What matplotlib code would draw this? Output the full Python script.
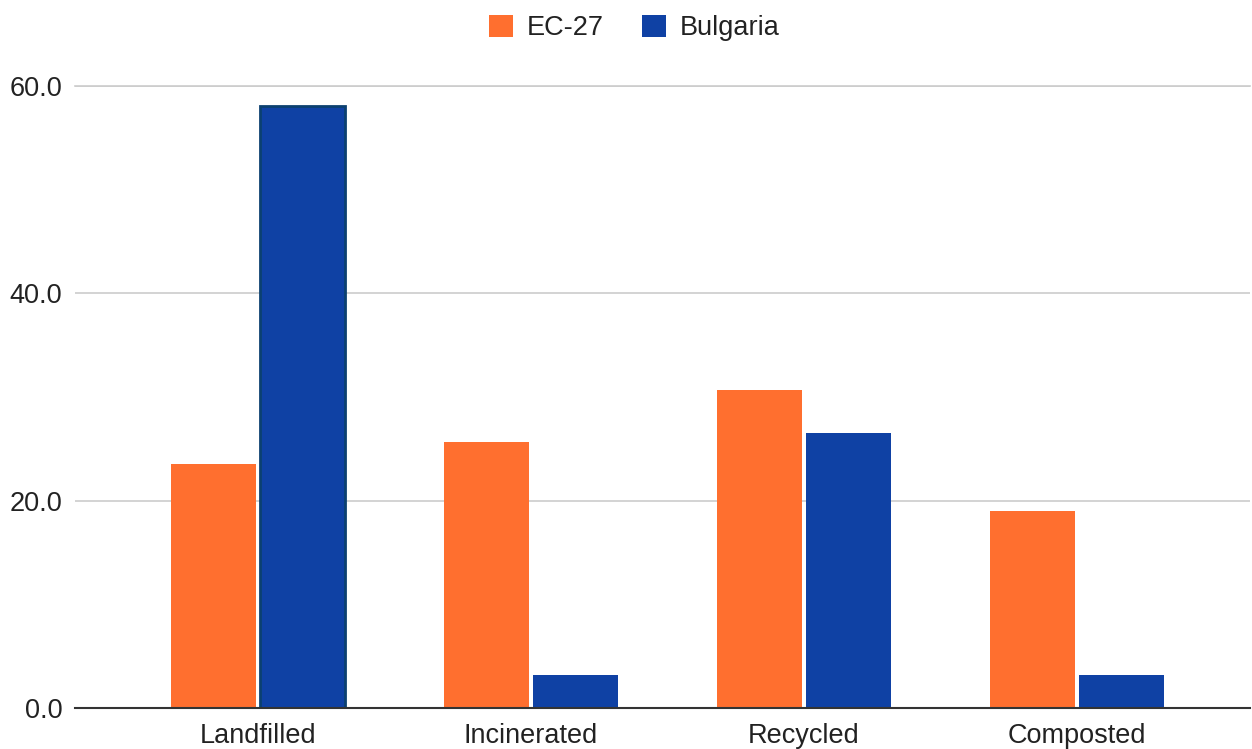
import matplotlib
matplotlib.use("Agg")
import matplotlib.pyplot as plt
from matplotlib.patches import Patch
import numpy as np

categories = ["Landfilled", "Incinerated", "Recycled", "Composted"]
series_names = ["EC-27", "Bulgaria"]
ec27 = [23.5, 25.7, 30.7, 19.0]
bulgaria = [58.1, 3.2, 26.5, 3.2]
yticks = [0, 20, 40, 60]
ytick_labels = ["0.0", "20.0", "40.0", "60.0"]

c_orange = "#FF6F2F"
c_blue = "#0F41A4"

plt.rcParams["font.family"] = ["Liberation Sans", "DejaVu Sans"]

fig = plt.figure(figsize=(12.52, 7.49), dpi=100)
ax = fig.add_axes([75/1252, 1-708/749, (1250-75)/1252, (708-86)/749])

x = np.arange(len(categories))
w = 0.31
gap = 0.0075
ax.bar(x - w/2 - gap, ec27, width=w, color=c_orange, zorder=3)
bars_b = ax.bar(x + w/2 + gap, bulgaria, width=w, color=c_blue, zorder=3)
bars_b[0].set_edgecolor("#0B4070")
bars_b[0].set_linewidth(2)

ax.set_xlim(-(258-75)/273, (1250-258)/273)
ax.set_ylim(0, 60)
ax.set_yticks(yticks)
ax.set_yticklabels(ytick_labels)
ax.set_xticks(x)
ax.set_xticklabels(categories)
ax.tick_params(axis="both", length=0, labelsize=19.5, colors="#222222")
ax.tick_params(axis="x", pad=11)
ax.tick_params(axis="y", pad=9)

for s in ["top", "right", "left"]:
    ax.spines[s].set_visible(False)
ax.spines["bottom"].set_color("#333333")
ax.spines["bottom"].set_linewidth(1.5)
ax.spines["bottom"].set_zorder(4)
ax.grid(axis="y", color="#cccccc", linewidth=1.2, zorder=0)
ax.set_axisbelow(True)
ax.axhline(60, color="#cccccc", linewidth=1.2, zorder=0, clip_on=False)

handles = [Patch(facecolor=c_orange, edgecolor="none"),
           Patch(facecolor=c_blue, edgecolor="none")]
fig.legend(handles, series_names, loc="center", bbox_to_anchor=(634/1252, 1-28/749),
           ncol=2, frameon=False, fontsize=19.5, handlelength=0.9, handleheight=0.9,
           handletextpad=0.5, columnspacing=1.4, labelcolor="#222222")

fig.savefig("out.png", dpi=100)
